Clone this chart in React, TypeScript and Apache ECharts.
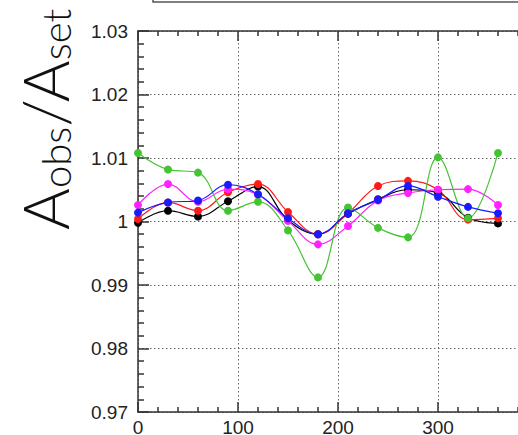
import React, { useEffect, useRef } from "react";
import * as echarts from "echarts";

const angles = [0, 30, 60, 90, 120, 150, 180, 210, 240, 270, 300, 330, 360];
const blackVals = [0.9998, 1.0017, 1.0008, 1.0032, 1.0055, 1.0002, 0.998, 1.0012, 1.0035, 1.005, 1.0045, 1.0006, 0.9997];
const redVals = [1.0004, 1.003, 1.0017, 1.0046, 1.0059, 1.0015, 0.998, 1.0013, 1.0056, 1.0064, 1.005, 1.0003, 1.0005];
const magentaVals = [1.0026, 1.0059, 1.0031, 1.0051, 1.0042, 1.0001, 0.9964, 0.9993, 1.0033, 1.0045, 1.005, 1.0051, 1.0026];
const greenVals = [1.0108, 1.0082, 1.0077, 1.0017, 1.0031, 0.9986, 0.9912, 1.0022, 0.999, 0.9975, 1.0101, 1.0005, 1.0108];
const blueVals = [1.0014, 1.003, 1.0033, 1.0058, 1.0043, 1.0005, 0.998, 1.0013, 1.0034, 1.0056, 1.0039, 1.0023, 1.0013];

const xTicks = [0, 100, 200, 300, 400];
const yMin = 0.97;
const yMax = 1.03;

const seriesDefs = [
  { name: "black", color: "#000000", values: blackVals },
  { name: "red", color: "#ff1a1a", values: redVals },
  { name: "magenta", color: "#ff22ff", values: magentaVals },
  { name: "green", color: "#44c433", values: greenVals },
  { name: "blue", color: "#1a1aff", values: blueVals },
];

export default function App() {
  const ref = useRef<HTMLDivElement>(null);
  useEffect(() => {
    if (!ref.current) return;
    const chart = echarts.init(ref.current, undefined, { renderer: "svg" });
    const axisLine = { show: true, lineStyle: { color: "#333", width: 1.5 } };
    const commonX = {
      type: "value" as const,
      min: xTicks[0],
      max: xTicks[xTicks.length - 1],
      interval: 100,
      axisLine,
      axisTick: { show: true, inside: true, length: 10, lineStyle: { color: "#333", width: 1.5 } },
      minorTick: { show: true, splitNumber: 5, length: 5, lineStyle: { color: "#333", width: 1.5 } },
    };
    chart.setOption({
      animation: false,
      grid: { left: 138, top: 31, width: 400, height: 381, outerBoundsMode: "none", containLabel: false },
      xAxis: [
        {
          ...commonX,
          position: "bottom",
          axisLabel: { fontFamily: "Liberation Sans", fontSize: 19, color: "#222", margin: 6 },
          splitLine: { show: true, lineStyle: { color: "#666", type: [1.5, 2.5], width: 1 } },
        },
        {
          ...commonX,
          position: "top",
          axisLabel: { show: false },
          splitLine: { show: false },
        },
      ],
      yAxis: {
        type: "value",
        min: yMin,
        max: yMax,
        interval: 0.01,
        axisLine,
        axisTick: { show: true, inside: true, length: 11, lineStyle: { color: "#333", width: 1.5 } },
        minorTick: { show: true, splitNumber: 5, length: 6, lineStyle: { color: "#333", width: 1.5 } },
        axisLabel: {
          fontFamily: "Liberation Sans",
          fontSize: 19,
          color: "#222",
          margin: 10,
          padding: [5, 0, 0, 0],
          formatter: (v: number) => (Math.abs(v - 1) < 1e-9 ? "1" : v.toFixed(2)),
        },
        splitLine: { show: true, lineStyle: { color: "#666", type: [1.5, 2.5], width: 1 } },
      },
      series: seriesDefs.map((s) => ({
        type: "line",
        name: s.name,
        data: angles.map((a, i) => [a, s.values[i]]),
        smooth: 0.4,
        symbol: "circle",
        symbolSize: 8,
        showSymbol: true,
        lineStyle: { color: s.color, width: 1.2 },
        itemStyle: { color: s.color },
      })),
      graphic: [
        {
          type: "rect",
          shape: { x: 153, y: -20, width: 420, height: 22 },
          style: { fill: "none", stroke: "#555", lineWidth: 1.5 },
        },
        {
          type: "text",
          x: 76,
          y: 230,
          rotation: Math.PI / 2,
          style: {
            text: "{a|A}{b|obs}{a|/A}{b|set}",
            align: "left",
            verticalAlign: "bottom",
            fill: "#111",
            rich: {
              a: { fontFamily: "Lato", fontWeight: 300, fontSize: 64, fill: "#111", verticalAlign: "bottom" },
              b: { fontFamily: "Lato", fontWeight: 300, fontSize: 40, fill: "#111", verticalAlign: "bottom" },
            },
          },
        },
      ],
    });
    return () => chart.dispose();
  }, []);
  return <div ref={ref} style={{ position: "absolute", left: 0, top: 0, width: 518, height: 435 }} />;
}
